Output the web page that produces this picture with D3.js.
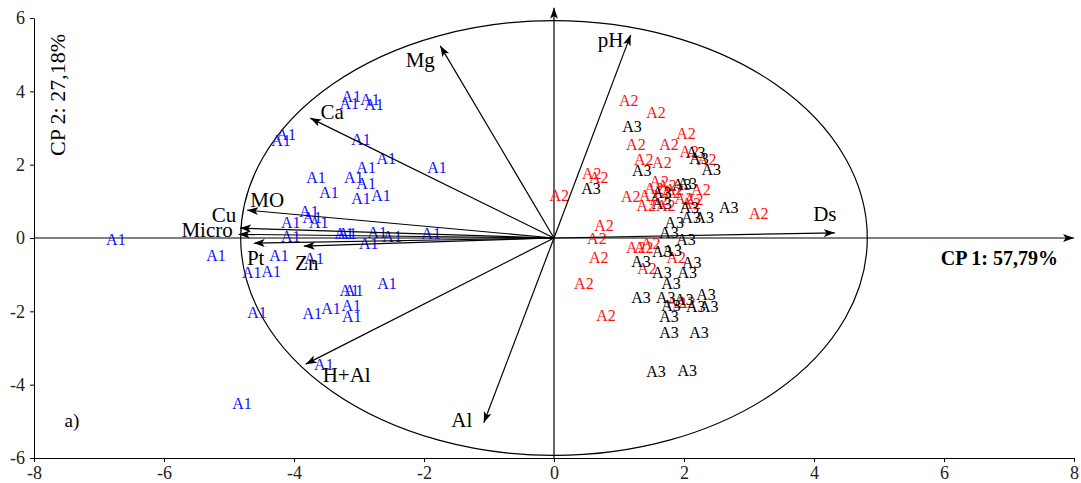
<!DOCTYPE html>
<html>
<head>
<meta charset="UTF-8">
<script src="https://cdn.jsdelivr.net/npm/d3@7"></script>
<style>
  body { margin: 0; background: #fff; }
  svg text { font-family: "Liberation Serif", "DejaVu Serif", serif; }
</style>
</head>
<body>
<svg id="chart" width="1081" height="483"></svg>
<script>
// scores (CP1, CP2)
let a1 = [
  [-3.12, 3.85], [-2.83, 3.79], [-3.15, 3.68], [-2.77, 3.65], [-4.20, 2.67], [-4.12, 2.81],
  [-2.97, 2.70], [-2.58, 2.18], [-1.80, 1.91], [-2.89, 1.91], [-3.66, 1.64], [-3.08, 1.64],
  [-2.89, 1.50], [-3.46, 1.25], [-2.97, 1.09], [-2.66, 1.17], [-3.77, 0.71], [-3.72, 0.57],
  [-3.62, 0.41], [-4.05, 0.41], [-3.18, 0.11], [-3.23, 0.11], [-2.72, 0.16], [-2.49, 0.03],
  [-1.89, 0.11], [-4.05, 0.03], [-2.85, -0.14], [-6.74, -0.05], [-5.20, -0.49], [-4.23, -0.49],
  [-4.65, -0.93], [-4.35, -0.90], [-3.69, -0.55], [-3.15, -1.42], [-3.08, -1.42], [-2.57, -1.23],
  [-4.57, -2.02], [-3.72, -2.07], [-3.43, -1.91], [-3.12, -1.83], [-3.11, -2.13], [-3.54, -3.46],
  [-4.80, -4.50]
];
let a2 = [
  [1.15, 3.76], [1.57, 3.41], [1.26, 2.56], [2.03, 2.86], [1.77, 2.54], [2.08, 2.37],
  [2.35, 2.13], [1.38, 2.15], [1.66, 2.05], [0.58, 1.75], [0.69, 1.66], [0.08, 1.17],
  [1.18, 1.12], [1.62, 1.53], [1.74, 1.42], [1.85, 1.31], [1.46, 1.17], [1.62, 1.04],
  [1.80, 1.23], [2.00, 1.09], [2.15, 1.04], [2.26, 1.31], [1.42, 0.90], [1.72, 0.90],
  [2.11, 0.95], [1.54, 1.36], [3.15, 0.68], [0.77, 0.35], [0.66, 0.00], [0.69, -0.52],
  [0.46, -1.23], [0.80, -2.10], [1.26, -0.25], [1.38, -0.25], [1.49, -0.14], [1.88, -0.52],
  [1.43, -0.82], [1.88, -1.75], [2.03, -1.77]
];
let a3 = [
  [1.20, 3.05], [2.18, 2.32], [2.23, 2.18], [2.42, 1.88], [1.35, 1.83], [0.57, 1.34],
  [1.97, 1.47], [2.05, 1.50], [1.66, 1.23], [1.66, 0.93], [2.69, 0.82], [2.08, 0.82],
  [1.85, 0.41], [2.11, 0.55], [2.31, 0.55], [1.77, 0.16], [2.03, -0.03], [1.66, -0.38],
  [1.34, -0.65], [1.82, -0.33], [2.12, -0.68], [2.05, -0.93], [1.66, -0.95], [1.80, -1.23],
  [1.34, -1.61], [1.72, -1.61], [1.80, -1.83], [2.00, -1.69], [2.34, -1.55], [2.38, -1.88],
  [2.18, -1.88], [1.77, -2.15], [1.77, -2.59], [2.23, -2.59], [1.57, -3.65], [2.05, -3.60]
];

// variable loadings (arrow tips)
let varNames = ["Mg", "pH", "Ca", "MO", "Cu", "Micro", "Pt", "Zn", "H+Al", "Al", "Ds"];
let varX = [-1.75, 1.18, -3.75, -4.72, -4.83, -4.85, -4.62, -3.85, -3.82, -1.08, 4.32];
let varY = [5.24, 5.54, 3.27, 0.76, 0.27, 0.10, -0.14, -0.22, -3.44, -5.04, 0.14];

let xTicks = [-8, -6, -4, -2, 0, 2, 4, 6, 8];
let yTicks = [-6, -4, -2, 0, 2, 4, 6];
let circleR = [4.82, 5.93];   // ellipse half-axes in plot units

// label offsets (px) for the arrow names
let labelOff = {
  "Mg": [-20, 14, "middle"], "pH": [-20, 5, "middle"], "Ca": [22, -6, "middle"],
  "MO": [20, -10, "middle"], "Cu": [-16, -13, "middle"], "Micro": [-6, -4, "end"],
  "Pt": [2, 15, "middle"], "Zn": [3, 17, "middle"], "H+Al": [41, 11, "middle"],
  "Al": [-22, -3, "middle"], "Ds": [-10, -19, "middle"]
};

let svg = d3.select("#chart");
let x = d3.scaleLinear([-8, 8], [34, 1074]);
let y = d3.scaleLinear([-6, 6], [458, 18]);

// arrow head marker
svg.append("defs").append("marker")
    .attr("id", "head")
    .attr("viewBox", "0 -5 10 10")
    .attr("refX", 10).attr("refY", 0)
    .attr("markerUnits", "userSpaceOnUse")
    .attr("markerWidth", 11).attr("markerHeight", 11)
    .attr("orient", "auto")
    .append("path")
    .attr("d", "M0,-3.6L10,0L0,3.6L2.5,0Z")
    .attr("fill", "#000");

// axes (plain hyphen for negatives, like the original)
let fmt = d => String(d);
let xAxis = svg.append("g")
    .attr("transform", `translate(0,${y(-6)})`)
    .call(d3.axisBottom(x).tickValues(xTicks).tickFormat(fmt).tickSize(4).tickSizeOuter(0).tickPadding(4));
let yAxis = svg.append("g")
    .attr("transform", `translate(${x(-8)},0)`)
    .call(d3.axisLeft(y).tickValues(yTicks).tickFormat(fmt).tickSize(4).tickSizeOuter(0).tickPadding(5));
[xAxis, yAxis].forEach(g => {
    g.selectAll("text").attr("font-size", 18).attr("fill", "#222");
    g.selectAll("line, path").attr("stroke", "#000");
});

// zero lines with arrows
svg.append("line")
    .attr("x1", x(-8)).attr("y1", y(0)).attr("x2", x(8)).attr("y2", y(0))
    .attr("stroke", "#000").attr("stroke-width", 1.2).attr("marker-end", "url(#head)");
svg.append("line")
    .attr("x1", x(0)).attr("y1", y(-6)).attr("x2", x(0)).attr("y2", y(6.28))
    .attr("stroke", "#000").attr("stroke-width", 1.2).attr("marker-end", "url(#head)");

// correlation ellipse
svg.append("ellipse")
    .attr("cx", x(0)).attr("cy", y(0))
    .attr("rx", x(circleR[0]) - x(0)).attr("ry", y(0) - y(circleR[1]))
    .attr("fill", "none").attr("stroke", "#000").attr("stroke-width", 1.2);

// point labels
function drawGroup(data, name, color) {
    svg.append("g").selectAll("text")
        .data(data).join("text")
        .attr("x", d => x(d[0]))
        .attr("y", d => y(d[1]))
        .attr("text-anchor", "middle")
        .attr("dominant-baseline", "central")
        .attr("font-size", 16)
        .attr("fill", color)
        .text(name);
}
drawGroup(a1, "A1", "#1010ff");
drawGroup(a2, "A2", "#ff1010");
drawGroup(a3, "A3", "#000");

// loading arrows
let vars = varNames.map((n, i) => ({ name: n, vx: varX[i], vy: varY[i] }));
svg.append("g").selectAll("line")
    .data(vars).join("line")
    .attr("x1", x(0)).attr("y1", y(0))
    .attr("x2", d => x(d.vx)).attr("y2", d => y(d.vy))
    .attr("stroke", "#000").attr("stroke-width", 1.2)
    .attr("marker-end", "url(#head)");
svg.append("g").selectAll("text")
    .data(vars).join("text")
    .attr("x", d => x(d.vx) + labelOff[d.name][0])
    .attr("y", d => y(d.vy) + labelOff[d.name][1])
    .attr("text-anchor", d => labelOff[d.name][2])
    .attr("dominant-baseline", "central")
    .attr("font-size", 21)
    .attr("fill", "#000")
    .text(d => d.name);

// axis titles
svg.append("text")
    .attr("x", 1058).attr("y", 258)
    .attr("text-anchor", "end").attr("dominant-baseline", "central")
    .attr("font-size", 20).attr("font-weight", "bold")
    .text("CP 1: 57,79%");
svg.append("text")
    .attr("transform", `translate(57,95) rotate(-90)`)
    .attr("text-anchor", "middle").attr("dominant-baseline", "central")
    .attr("font-size", 22)
    .text("CP 2: 27,18%");

svg.append("text")
    .attr("x", 72).attr("y", 420)
    .attr("text-anchor", "middle").attr("dominant-baseline", "central")
    .attr("font-size", 19)
    .text("a)");
</script>
</body>
</html>
